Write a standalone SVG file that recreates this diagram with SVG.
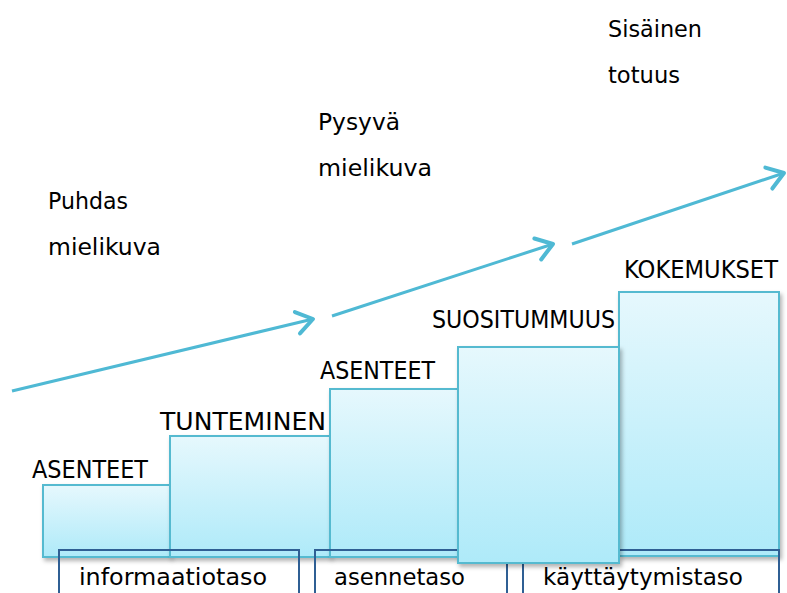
<svg xmlns="http://www.w3.org/2000/svg" width="787" height="593" viewBox="0 0 787 593">
  <style>
    .t { font-family: "DejaVu Sans", "Liberation Sans", sans-serif; fill: #000; }
    .up { font-size: 23px; }
    .cap { font-size: 24px; }
    .lbl { font-size: 23px; }
    .bar { fill: url(#g); stroke: #55bad0; stroke-width: 2; filter: url(#sh); }
    .lb { fill: none; stroke: #2f5f94; stroke-width: 2; }
    .ar { fill: none; stroke: #4fb9d4; stroke-width: 3; marker-end: url(#ah); }
  </style>
  <defs>
    <linearGradient id="g" x1="0" y1="0" x2="0" y2="1">
      <stop offset="0" stop-color="#e6f8fd"/>
      <stop offset="1" stop-color="#aeeaf9"/>
    </linearGradient>
    <filter id="sh" x="-10%" y="-10%" width="130%" height="130%">
      <feDropShadow dx="2" dy="3" stdDeviation="2" flood-color="#000" flood-opacity="0.3"/>
    </filter>
    <marker id="ah" markerUnits="userSpaceOnUse" viewBox="-22 -15 27 30" refX="0" refY="0" markerWidth="27" markerHeight="30" orient="auto">
      <path d="M-16,-11 L0,0 L-16,11" fill="none" stroke="#4fb9d4" stroke-width="4" stroke-linecap="round" stroke-linejoin="round"/>
    </marker>
  </defs>

  <g id="connectors">
    <path class="ar" d="M12,391 L313,319"/>
    <path class="ar" d="M332,316 L553,244"/>
    <path class="ar" d="M572,244 L784,173"/>
  </g>

  <g id="upper-labels">
    <text class="t up" x="48" y="209" textLength="80" lengthAdjust="spacingAndGlyphs">Puhdas</text>
    <text class="t up" x="48" y="255" textLength="113" lengthAdjust="spacingAndGlyphs">mielikuva</text>
    <text class="t up" x="318" y="130" textLength="82" lengthAdjust="spacingAndGlyphs">Pysyvä</text>
    <text class="t up" x="318" y="176" textLength="114" lengthAdjust="spacingAndGlyphs">mielikuva</text>
    <text class="t up" x="608" y="37" textLength="94" lengthAdjust="spacingAndGlyphs">Sisäinen</text>
    <text class="t up" x="608" y="83" textLength="72" lengthAdjust="spacingAndGlyphs">totuus</text>
  </g>

  <g id="bar1">
    <rect class="bar" x="43" y="485" width="127" height="72"/>
    <text class="t cap" x="32" y="478" textLength="116" lengthAdjust="spacingAndGlyphs">ASENTEET</text>
  </g>
  <g id="bar2">
    <rect class="bar" x="170" y="436" width="160" height="121"/>
    <text class="t cap" x="160" y="430" textLength="166" lengthAdjust="spacingAndGlyphs">TUNTEMINEN</text>
  </g>
  <g id="bar3">
    <rect class="bar" x="330" y="389" width="128" height="168"/>
    <text class="t cap" x="320" y="379" textLength="115" lengthAdjust="spacingAndGlyphs">ASENTEET</text>
  </g>
  <g id="bar5">
    <rect class="bar" x="619" y="292" width="160" height="264"/>
    <text class="t cap" x="624" y="278" textLength="154" lengthAdjust="spacingAndGlyphs">KOKEMUKSET</text>
  </g>

  <g id="level1">
    <path class="lb" d="M59,593 V550 H299 V593"/>
    <text class="t lbl" x="79" y="585" textLength="188" lengthAdjust="spacingAndGlyphs">informaatiotaso</text>
  </g>
  <g id="level2">
    <path class="lb" d="M315,593 V550 H507 V593"/>
    <text class="t lbl" x="334" y="585" textLength="131" lengthAdjust="spacingAndGlyphs">asennetaso</text>
  </g>
  <g id="level3">
    <path class="lb" d="M523,593 V550 H779 V593"/>
    <text class="t lbl" x="543" y="585" textLength="200" lengthAdjust="spacingAndGlyphs">käyttäytymistaso</text>
  </g>

  <g id="bar4">
    <rect class="bar" x="458" y="347" width="161" height="216"/>
    <text class="t cap" x="432" y="328" textLength="183" lengthAdjust="spacingAndGlyphs">SUOSITUMMUUS</text>
  </g>
</svg>
